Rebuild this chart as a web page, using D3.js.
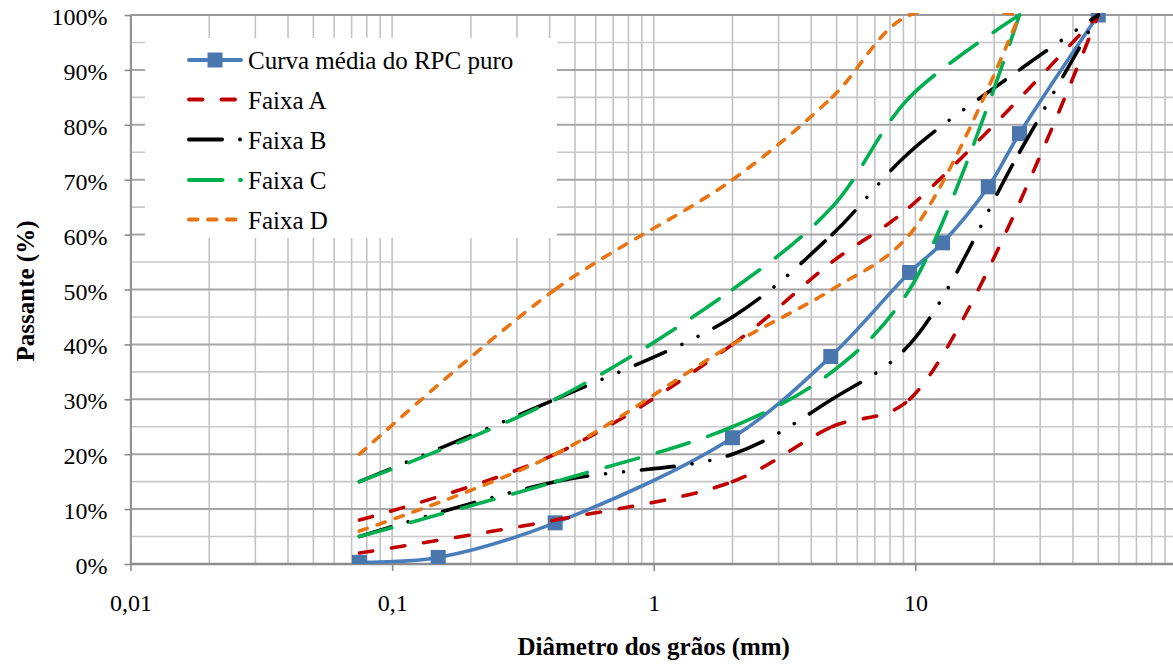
<!DOCTYPE html>
<html>
<head>
<meta charset="utf-8">
<script src="https://cdn.jsdelivr.net/npm/d3@7"></script>
<style>
  html, body { margin: 0; padding: 0; background: #fff; }
  svg { display: block; }
  text { font-family: "Liberation Serif", "Times New Roman", serif; fill: #000; }
</style>
</head>
<body>
<svg id="chart" width="1173" height="664"></svg>
<script>
// Sieve openings (mm) and percent passing
const rpcSieves = [0.075, 0.15, 0.42, 2.0, 4.75, 9.5, 12.7, 19, 25, 50];
const rpcMean   = [0.3, 1.2, 7.5, 23.0, 37.8, 53.1, 58.5, 68.7, 78.4, 100];

const faixaASieves = [0.075, 0.42, 2.0, 4.8, 9.5, 50];
const faixaAUpper  = [8, 20, 40, 55, 65, 100];
const faixaALower  = [2, 8, 15, 25, 30, 100];

const faixaBSieves = [0.075, 0.42, 2.0, 4.8, 9.5, 25, 50];
const faixaBUpper  = [15, 30, 45, 60, 75, 90, 100];
const faixaBLower  = [5, 15, 20, 30, 40, 75, 100];

const faixaCSieves = [0.075, 0.42, 2.0, 4.8, 9.5, 25];
const faixaCUpper  = [15, 30, 50, 65, 85, 100];
const faixaCLower  = [5, 15, 25, 35, 50, 100];

const faixaDSieves = [0.075, 0.42, 2.0, 4.8, 9.5, 25];
const faixaDUpper  = [20, 50, 70, 85, 100, 100];
const faixaDLower  = [6, 20, 40, 50, 60, 100];

const xTickValues = [0.01, 0.1, 1, 10];
const xTickLabels = ["0,01", "0,1", "1", "10"];
const yTickValues = [0, 10, 20, 30, 40, 50, 60, 70, 80, 90, 100];

const legendLabels = ["Curva média do RPC puro", "Faixa A", "Faixa B", "Faixa C", "Faixa D"];

// ---- layout ----
const W = 1173, H = 664;
const plot = { left: 130.5, right: 1177, top: 15, bottom: 564 };

const x = d3.scaleLog().domain([0.01, 100]).range([plot.left, plot.right]);
const y = d3.scaleLinear().domain([0, 100]).range([plot.bottom, plot.top]);

const svg = d3.select("#chart");

// grid: vertical lines at 1..9 of every decade
const vGrid = [];
for (let e = -2; e <= 1; e++) for (let m = 1; m <= 9; m++) vGrid.push(m * Math.pow(10, e));
vGrid.push(100);

const grid = svg.append("g");
grid.selectAll("line.v").data(vGrid).join("line")
  .attr("x1", d => x(d)).attr("x2", d => x(d))
  .attr("y1", plot.top).attr("y2", plot.bottom)
  .attr("stroke", "#c3c3c3").attr("stroke-width", 1.6);

const minorY = d3.range(5, 100, 10);
grid.selectAll("line.hm").data(minorY).join("line")
  .attr("x1", plot.left).attr("x2", W)
  .attr("y1", d => y(d)).attr("y2", d => y(d))
  .attr("stroke", "#c8c8c8").attr("stroke-width", 1.6);

grid.selectAll("line.hM").data(yTickValues.filter(v => v > 0)).join("line")
  .attr("x1", plot.left).attr("x2", W)
  .attr("y1", d => y(d)).attr("y2", d => y(d))
  .attr("stroke", "#a6a6a6").attr("stroke-width", 2);

// legend background hides the grid behind it
const legendBox = { x: 145, y: 38, w: 412, h: 200 };
svg.append("rect")
  .attr("x", legendBox.x).attr("y", legendBox.y)
  .attr("width", legendBox.w).attr("height", legendBox.h)
  .attr("fill", "#fff");

// axes
const xAxis = d3.axisBottom(x).tickValues(xTickValues)
  .tickFormat((d, i) => xTickLabels[i]).tickSizeInner(7).tickSizeOuter(0).tickPadding(10);
const gx = svg.append("g").attr("transform", `translate(0,${plot.bottom})`)
  .call(xAxis).attr("font-family", "Liberation Serif");
gx.select(".domain").attr("stroke", "#8c8c8c").attr("stroke-width", 2.6).attr("d", `M${plot.left},0H${W}`);
gx.selectAll(".tick line").attr("stroke", "#8c8c8c").attr("stroke-width", 1.6);
gx.selectAll(".tick text").attr("font-size", 24)
  .attr("fill", "#000").attr("dy", null).attr("y", 47);

const yAxis = d3.axisLeft(y).tickValues(yTickValues)
  .tickFormat(d => d + "%").tickSizeInner(6).tickSizeOuter(0).tickPadding(22);
const gy = svg.append("g").attr("transform", `translate(${plot.left},0)`)
  .call(yAxis).attr("font-family", "Liberation Serif");
gy.select(".domain").attr("stroke", "#8c8c8c").attr("stroke-width", 1.8);
gy.selectAll(".tick line").attr("stroke", "#8c8c8c").attr("stroke-width", 1.6);
gy.selectAll(".tick text").attr("font-size", 24)
  .attr("fill", "#000").attr("dy", null).attr("y", 9.5).attr("x", -23);

// top border of the plot area
svg.append("line").attr("x1", plot.left).attr("x2", W)
  .attr("y1", plot.top).attr("y2", plot.top)
  .attr("stroke", "#9a9a9a").attr("stroke-width", 1.8);

// axis titles
svg.append("text")
  .attr("x", x(1)).attr("y", 655)
  .attr("text-anchor", "middle").attr("font-size", 25).attr("font-weight", "bold")
  .text("Diâmetro dos grãos (mm)");

svg.append("text")
  .attr("transform", "translate(33.5,291) rotate(-90)")
  .attr("text-anchor", "middle").attr("font-size", 25).attr("font-weight", "bold")
  .text("Passante (%)");

// ---- series ----
svg.append("clipPath").attr("id", "plotClip")
  .append("rect").attr("x", plot.left).attr("y", plot.top - 2)
  .attr("width", W - plot.left).attr("height", plot.bottom - plot.top + 2);

const curveLine = d3.line().x(p => x(p[0])).y(p => y(p[1])).curve(d3.curveCatmullRom);

// split a smoothed path into one piece per data interval, so the dash
// pattern starts fresh at every sieve
function pieces(points) {
  const d = curveLine(points);
  const parts = d.slice(1).split("C");
  const out = [];
  let start = parts[0];
  for (let i = 1; i < parts.length; i++) {
    const nums = parts[i].split(",");
    out.push("M" + start + "C" + parts[i]);
    start = nums[4] + "," + nums[5];
  }
  return out;
}

const zip = (xs, ys) => xs.map((v, i) => [v, ys[i]]);

const styles = {
  rpc: { color: "#4a7ebb", width: 3.6, dash: null },
  A:   { color: "#c00000", width: 3.6, dash: "13.5 19" },
  B:   { color: "#000000", width: 3.6, dash: "33 18 0.01 18 0.01 18" },
  C:   { color: "#00b050", width: 3.6, dash: "33.5 19.5" },
  D:   { color: "#e87511", width: 3.6, dash: "8.5 10.5" }
};

const seriesG = svg.append("g").attr("clip-path", "url(#plotClip)");

function drawCurve(points, st) {
  const g = seriesG.append("g");
  g.selectAll("path").data(pieces(points)).join("path")
    .attr("d", d => d)
    .attr("fill", "none")
    .attr("stroke", st.color)
    .attr("stroke-width", st.width)
    .attr("stroke-linecap", "round")
    .attr("stroke-linejoin", "round")
    .attr("stroke-dasharray", st.dash);
}

// mean curve with square markers
const rpcPts = zip(rpcSieves, rpcMean);
drawCurve(rpcPts, styles.rpc);
const markerSize = 15;
seriesG.append("g").selectAll("rect").data(rpcPts).join("rect")
  .attr("x", p => x(p[0]) - markerSize / 2)
  .attr("y", p => y(p[1]) - markerSize / 2)
  .attr("width", markerSize).attr("height", markerSize)
  .attr("fill", "#4a76ae");

drawCurve(zip(faixaASieves, faixaAUpper), styles.A);
drawCurve(zip(faixaASieves, faixaALower), styles.A);
drawCurve(zip(faixaBSieves, faixaBUpper), styles.B);
drawCurve(zip(faixaBSieves, faixaBLower), styles.B);
drawCurve(zip(faixaCSieves, faixaCUpper), styles.C);
drawCurve(zip(faixaCSieves, faixaCLower), styles.C);
drawCurve(zip(faixaDSieves, faixaDUpper), styles.D);
drawCurve(zip(faixaDSieves, faixaDLower), styles.D);

// ---- legend ----
const legendStyles = [styles.rpc, styles.A, styles.B, styles.C, styles.D];
const legendDash = [null, styles.A.dash, styles.B.dash, "33.5 17.5", styles.D.dash];
const legendRowY = [60, 99.5, 139.5, 180, 219.5];
const legendEnd = [241, 238, 241, 241, 238];
const lg = svg.append("g");
legendLabels.forEach((label, i) => {
  const st = legendStyles[i];
  const cy = legendRowY[i];
  lg.append("line")
    .attr("x1", 189).attr("x2", legendEnd[i])
    .attr("y1", cy).attr("y2", cy)
    .attr("stroke", st.color).attr("stroke-width", 4)
    .attr("stroke-linecap", "round")
    .attr("stroke-dasharray", legendDash[i]);
  if (i === 0) {
    lg.append("rect").attr("x", 215 - markerSize / 2).attr("y", cy - markerSize / 2)
      .attr("width", markerSize).attr("height", markerSize).attr("fill", "#4a76ae");
  }
  lg.append("text").attr("x", 248).attr("y", cy + 9)
    .attr("font-size", 25).text(label);
});
</script>
</body>
</html>
